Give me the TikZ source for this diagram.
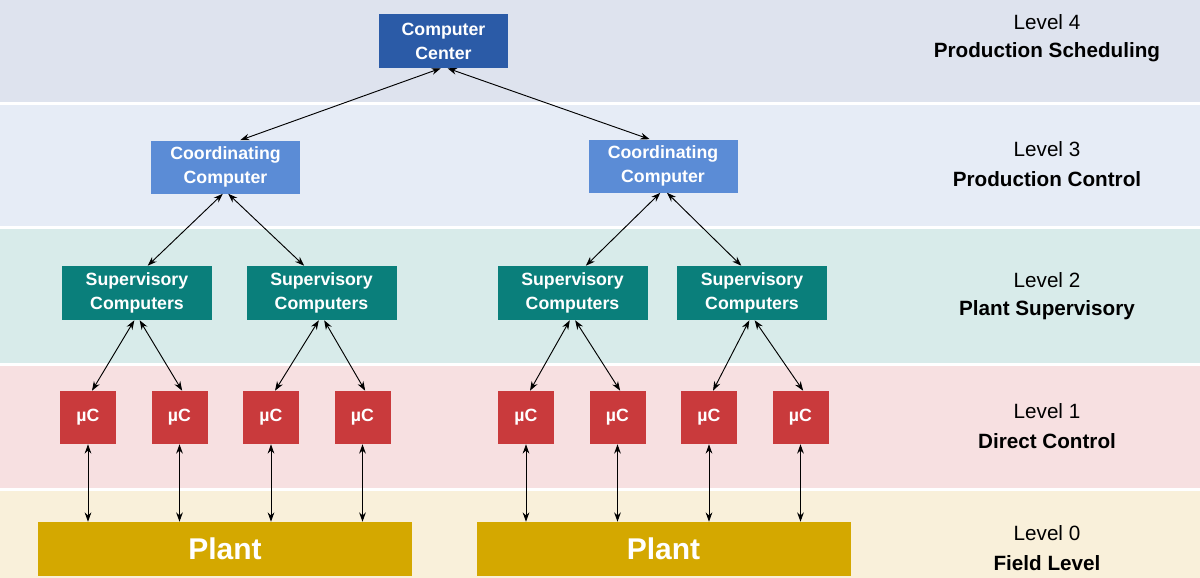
\documentclass[tikz,border=0pt]{standalone}
\usepackage{fontspec}
\setmainfont{Liberation Sans}
\usepackage{xcolor}
\usetikzlibrary{positioning,arrows.meta}

\definecolor{bandfour}{HTML}{DEE3EE}
\definecolor{bandthree}{HTML}{E6ECF6}
\definecolor{bandtwo}{HTML}{D8EBEA}
\definecolor{bandone}{HTML}{F7E0E1}
\definecolor{bandzero}{HTML}{F9F0DA}
\definecolor{centerblue}{HTML}{2B5BA7}
\definecolor{coordblue}{HTML}{5B8CD6}
\definecolor{superteal}{HTML}{0A7F7B}
\definecolor{mcred}{HTML}{C93A3C}
\definecolor{plantgold}{HTML}{D4A800}

\begin{document}
\begin{tikzpicture}[x=0.75pt,y=-0.75pt,
  box/.style={text=white,align=center,inner sep=0pt,
    font=\fontsize{13.3}{18}\selectfont\bfseries},
  centerbox/.style={box,fill=centerblue,minimum width=96.75pt,minimum height=40.5pt},
  coordbox/.style={box,fill=coordblue,minimum width=111.75pt,minimum height=39.75pt},
  superbox/.style={box,fill=superteal,minimum width=112.5pt,minimum height=40.5pt},
  mcbox/.style={box,fill=mcred,minimum width=42pt,minimum height=39.75pt},
  plantbox/.style={box,fill=plantgold,minimum width=280.5pt,minimum height=40.5pt,
    font=\fontsize{22.5}{26}\selectfont\bfseries},
  lvl/.style={font=\fontsize{15.5}{18}\selectfont},
  lvlname/.style={font=\fontsize{15.5}{18}\selectfont\bfseries},
  link/.style={<->,>={Stealth[length=7pt,width=5pt]},line width=0.7pt}]
\useasboundingbox (0,0) rectangle (1200,578);
%% bands
\fill[bandfour]  (0,0)   rectangle (1200,102);
\fill[bandthree] (0,105) rectangle (1200,226);
\fill[bandtwo]   (0,229) rectangle (1200,363);
\fill[bandone]   (0,366) rectangle (1200,488);
\fill[bandzero]  (0,491) rectangle (1200,578);
%% level texts
\node[lvl]     (lvlfour)   at (1047,22)  {Level 4};
\node[lvlname] (namefour)  at (1047,52)  {Production Scheduling};
\node[lvl]     (lvlthree)  at (1047,149) {Level 3};
\node[lvlname] (namethree) at (1047,179) {Production Control};
\node[lvl]     (lvltwo)    at (1047,280) {Level 2};
\node[lvlname] (nametwo)   at (1047,310) {Plant Supervisory};
\node[lvl]     (lvlone)    at (1047,411) {Level 1};
\node[lvlname] (nameone)   at (1047,441) {Direct Control};
\node[lvl]     (lvlzero)   at (1047,533) {Level 0};
\node[lvlname] (namezero)  at (1047,563) {Field Level};
%% boxes
\node[centerbox] (center) at (443.5,41) {Computer\\Center};
\node[coordbox] (coordA) at (225.5,167) {Coordinating\\Computer};
\node[coordbox] (coordB) at (663,166) {Coordinating\\Computer};
\node[superbox] (superA) at (137,293)   {Supervisory\\Computers};
\node[superbox] (superB) at (321.5,293) {Supervisory\\Computers};
\node[superbox] (superC) at (572.5,293) {Supervisory\\Computers};
\node[superbox] (superD) at (752,293)   {Supervisory\\Computers};
\node[mcbox] (mcA) at (88,417.5)    {µC};
\node[mcbox] (mcB) at (179.5,417.5) {µC};
\node[mcbox] (mcC) at (271,417.5)   {µC};
\node[mcbox] (mcD) at (362.5,417.5) {µC};
\node[mcbox] (mcE) at (526,417.5)   {µC};
\node[mcbox] (mcF) at (617.5,417.5) {µC};
\node[mcbox] (mcG) at (709,417.5)   {µC};
\node[mcbox] (mcH) at (800.5,417.5) {µC};
\node[plantbox] (plantA) at (225,549)   {Plant};
\node[plantbox] (plantB) at (663.5,549) {Plant};
%% links
\draw[link] ([xshift=-2pt]center.south) -- ([xshift=11pt]coordA.north);
\draw[link] ([xshift=3pt]center.south) -- ([xshift=-10pt]coordB.north);
\draw[link] ([xshift=-2pt]coordA.south) -- ([xshift=8pt]superA.north);
\draw[link] ([xshift=2pt]coordA.south) -- ([xshift=-13pt]superB.north);
\draw[link] ([xshift=-2pt]coordB.south) -- ([xshift=10pt]superC.north);
\draw[link] ([xshift=3pt]coordB.south) -- ([xshift=-8pt]superD.north);
\draw[link] ([xshift=-2pt]superA.south) -- ([xshift=3pt]mcA.north);
\draw[link] ([xshift=2pt]superA.south) -- ([xshift=2pt]mcB.north);
\draw[link] ([xshift=-2pt]superB.south) -- ([xshift=3pt]mcC.north);
\draw[link] ([xshift=2pt]superB.south) -- ([xshift=2pt]mcD.north);
\draw[link] ([xshift=-2pt]superC.south) -- ([xshift=3pt]mcE.north);
\draw[link] ([xshift=2pt]superC.south) -- ([xshift=2pt]mcF.north);
\draw[link] ([xshift=-2pt]superD.south) -- ([xshift=3pt]mcG.north);
\draw[link] ([xshift=2pt]superD.south) -- ([xshift=2pt]mcH.north);
%% field links
\draw[link] (mcA.south) -- (mcA.south |- plantA.north);
\draw[link] (mcB.south) -- (mcB.south |- plantA.north);
\draw[link] (mcC.south) -- (mcC.south |- plantA.north);
\draw[link] (mcD.south) -- (mcD.south |- plantA.north);
\draw[link] (mcE.south) -- (mcE.south |- plantB.north);
\draw[link] (mcF.south) -- (mcF.south |- plantB.north);
\draw[link] (mcG.south) -- (mcG.south |- plantB.north);
\draw[link] (mcH.south) -- (mcH.south |- plantB.north);
\end{tikzpicture}
\end{document}
